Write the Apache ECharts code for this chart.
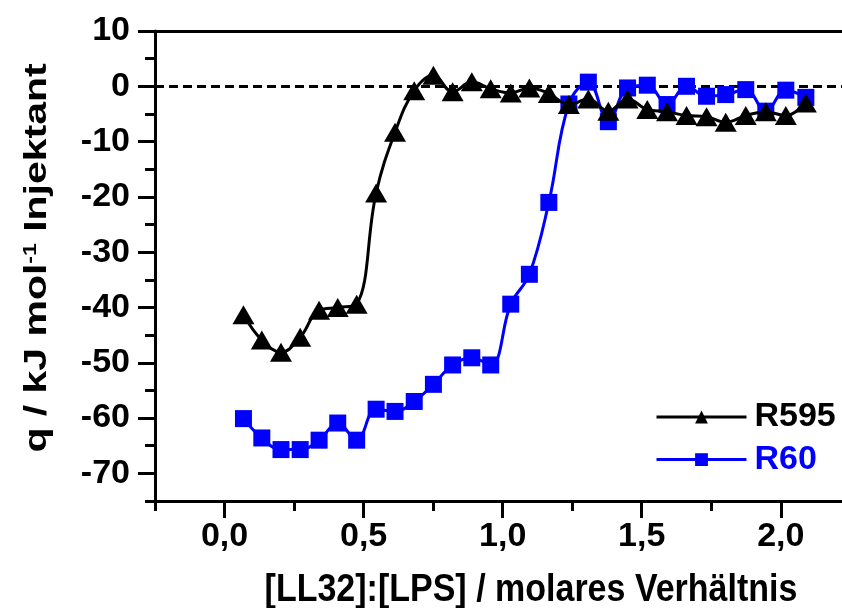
<!DOCTYPE html>
<html>
<head>
<meta charset="utf-8">
<script src="https://cdn.jsdelivr.net/npm/echarts@6/dist/echarts.min.js"></script>
<style>
html,body{margin:0;padding:0;background:#fff;}
#chart{width:842px;height:608px;}
</style>
</head>
<body>
<div id="chart"></div>
<script>
// ---- data ----
var xValues = [0.068,0.134,0.203,0.272,0.340,0.407,0.475,0.545,0.613,0.682,0.751,0.820,0.889,0.957,1.029,1.096,1.166,1.238,1.308,1.380,1.449,1.520,1.591,1.661,1.733,1.802,1.874,1.946,2.018,2.090];
var r595 = [-41.3,-45.9,-48.1,-45.4,-40.5,-40.0,-39.4,-19.3,-8.3,-0.8,2.0,-1.0,0.8,-0.45,-1.2,-0.3,-1.3,-3.3,-2.3,-4.5,-2.3,-4.2,-4.6,-5.3,-5.5,-6.5,-5.3,-4.6,-5.3,-3.0];
var r60 = [-60.1,-63.6,-65.7,-65.7,-64.0,-60.9,-64.0,-58.4,-58.8,-57.0,-53.9,-50.4,-49.1,-50.4,-39.4,-34.0,-21.0,-3.2,0.75,-6.4,-0.3,0.2,-3.3,0.0,-1.8,-1.5,-0.6,-4.5,-0.7,-2.0];
var xMajorTicks = [0, 0.5, 1.0, 1.5, 2.0];
var xMinorTicks = [-0.25, 0.25, 0.75, 1.25, 1.75];
var yMajorTicks = [-70,-60,-50,-40,-30,-20,-10,0,10];
var yMinorTicks = [-75,-65,-55,-45,-35,-25,-15,-5,5];
var seriesNames = ['R595','R60'];
var xTitle = '[LL32]:[LPS] / molares Verhältnis';
var yTitle = 'q / kJ mol{sup|-1} Injektant';

function pairs(xs, ys){ return xs.map(function(x,i){ return [x, ys[i]]; }); }

var FONT = '"Liberation Sans", Arial, sans-serif';
var BLUE = '#0000ff';
var FS = 34;
var chart = echarts.init(document.getElementById('chart'), null, {renderer:'canvas'});
var option = {
  animation: false,
  backgroundColor: '#fff',
  grid: {left:155, top:31, right:0, bottom:107, containLabel:false},
  legend: {
    orient: 'vertical', left: 655, top: 400, padding: 0,
    itemWidth: 90, itemHeight: 16, itemGap: 8.6,
    lineStyle: {width: 3},
    textStyle: {fontFamily: FONT, fontWeight:'bold', fontSize: FS, lineHeight: 34, padding:[0,0,0,3]},
    data: [
      {name: seriesNames[0], textStyle:{color:'#000'}},
      {name: seriesNames[1], textStyle:{color:BLUE}}
    ]
  },
  graphic: [
    {
      type:'text', x: 37, y: 258, rotation: Math.PI/2, scaleX: 1.28, scaleY: 1,
      style:{
        text: yTitle, fill:'#000', align:'center', verticalAlign:'middle',
        font: 'bold 32px ' + FONT,
        rich:{sup:{font:'bold 18px ' + FONT, fill:'#000', padding:[0,0,12,0]}}
      }
    },
    {
      type:'text', x: 531, y: 590, scaleX: 1, scaleY: 1.15,
      style:{
        text: xTitle, fill:'#000', align:'center', verticalAlign:'middle',
        font: 'bold 34px ' + FONT
      }
    }
  ],
  xAxis: [
    {
      type:'value', min:-0.25, max:2.22, position:'bottom',
      splitLine:{show:false},
      axisLine:{show:true, onZero:false, lineStyle:{color:'#000', width:3}},
      axisTick:{show:true, inside:false, length:17, customValues: xMajorTicks, lineStyle:{color:'#000', width:3}},
      axisLabel:{show:true, customValues: xMajorTicks, margin:19, fontFamily:FONT, fontWeight:'bold', fontSize:FS, color:'#000',
        formatter:function(v){ return v.toFixed(1).replace('.', ','); }}
    },
    {
      type:'value', min:-0.25, max:2.22, position:'bottom',
      splitLine:{show:false},
      axisLine:{show:false, onZero:false},
      axisTick:{show:true, inside:false, length:10, customValues: xMinorTicks, lineStyle:{color:'#000', width:3}},
      axisLabel:{show:false}
    },
    {
      type:'value', min:-0.25, max:2.22, position:'top',
      splitLine:{show:false},
      axisLine:{show:true, onZero:false, lineStyle:{color:'#000', width:3}},
      axisTick:{show:false}, axisLabel:{show:false}
    }
  ],
  yAxis: [
    {
      type:'value', min:-75, max:10, position:'left',
      splitLine:{show:false},
      axisLine:{show:true, onZero:false, lineStyle:{color:'#000', width:3}},
      axisTick:{show:true, inside:false, length:17, customValues: yMajorTicks, lineStyle:{color:'#000', width:3}},
      axisLabel:{show:true, customValues: yMajorTicks, margin:25, fontFamily:FONT, fontWeight:'bold', fontSize:FS, color:'#000'}
    },
    {
      type:'value', min:-75, max:10, position:'left',
      splitLine:{show:false},
      axisLine:{show:false, onZero:false},
      axisTick:{show:true, inside:false, length:10, customValues: yMinorTicks, lineStyle:{color:'#000', width:3}},
      axisLabel:{show:false}
    }
  ],
  series: [
    {
      name: seriesNames[1], type:'line', xAxisIndex:0, yAxisIndex:0,
      data: pairs(xValues, r60),
      smooth: 0.4,
      symbol:'rect', symbolSize:17,
      lineStyle:{color:BLUE, width:3},
      itemStyle:{color:BLUE},
      z: 2,
      markLine:{
        silent:true, symbol:['none','none'], label:{show:false},
        lineStyle:{color:'#000', width:3, type:[9,5]},
        data:[{yAxis:0}], z: 1
      }
    },
    {
      name: seriesNames[0], type:'line', xAxisIndex:0, yAxisIndex:0,
      data: pairs(xValues, r595),
      smooth: 0.4,
      symbol:'triangle', symbolSize:[22,19],
      lineStyle:{color:'#000', width:3},
      itemStyle:{color:'#000'},
      z: 3
    }
  ]
};
chart.setOption(option);
</script>
</body>
</html>
